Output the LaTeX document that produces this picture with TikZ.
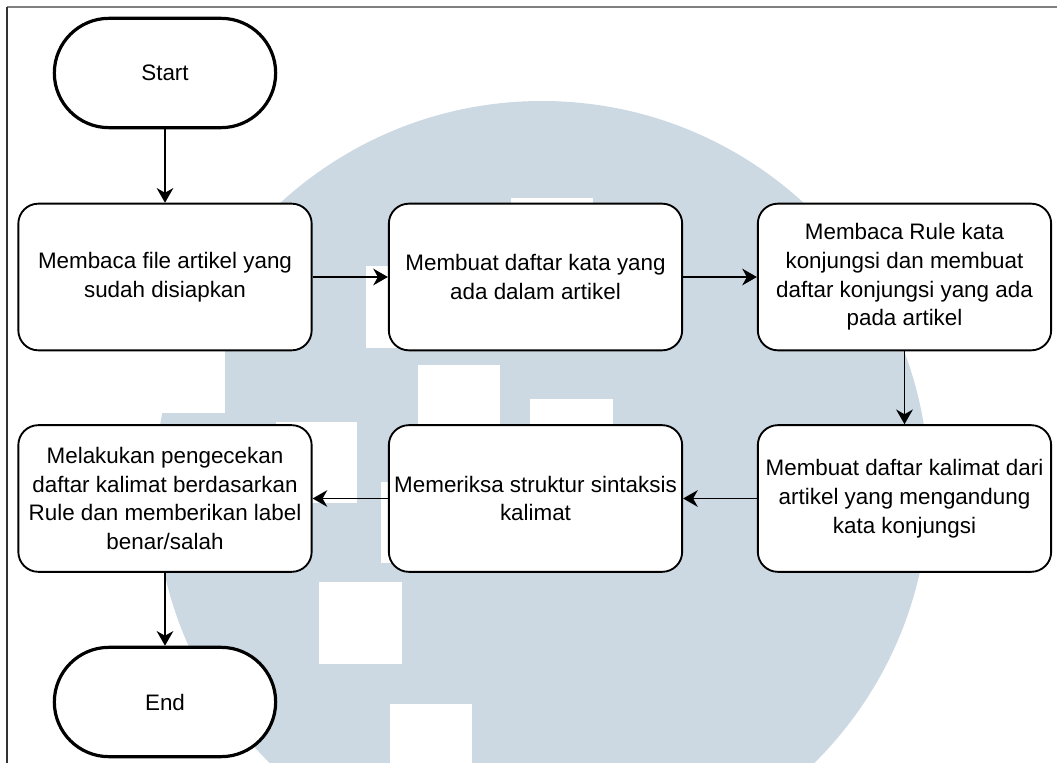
\documentclass[tikz,border=0pt]{standalone}
\usepackage{fontspec}
\setmainfont{Liberation Sans}
\usepackage{tikz}
\usetikzlibrary{arrows.meta}

\definecolor{wmark}{RGB}{204,217,227}

\begin{document}
\begin{tikzpicture}[x=0.75pt,y=-0.75pt,
	proc/.style={draw,line width=1.4pt,fill=white,rounded corners=15pt,minimum width=220pt,minimum height=110pt,align=center,inner sep=0pt,font=\fontsize{16.8}{21.6}\selectfont},
	term/.style={draw,line width=2.4pt,fill=white,rounded corners=41pt,minimum width=166pt,minimum height=82pt,inner sep=0pt,font=\fontsize{16.8}{21.6}\selectfont},
	flow/.style={line width=1.1pt,-{Stealth[length=11pt,width=12.5pt,inset=3.5pt]}}]
		\useasboundingbox (0,0) rectangle (1057,763);
		% watermark
		\begin{scope}
		\clip (0,0) rectangle (1057,763);
		\fill[wmark] (542,488) circle (290.25pt);
		\foreach \xa/\ya/\xb/\yb in {150/300/225/413,366/266/420/348,511/198/593/260,418/365/500/440,530/399/613/440,276/422/357/503,381/482/420/563,319/582/402/664,390/704/472/763}
		{
		\fill[white] (\xa,\ya) rectangle (\xb,\yb);
		}
		\end{scope}
		\draw[gray,line width=1.1pt] (7,7) -- (1057,7);
		\draw[black!80,line width=0.8pt] (7,7) -- (7,763);
		
		\node[term] (start) at (165,73) {Start};
		\node[proc] (baca) at (165,277) {Membaca file artikel yang\\sudah disiapkan};
		\node[proc] (kata) at (535.5,277) {Membuat daftar kata yang\\ada dalam artikel};
		\node[proc] (konj) at (904.5,277) {Membaca Rule kata\\konjungsi dan membuat\\daftar konjungsi yang ada\\pada artikel};
		\node[proc] (kalimat) at (904.5,498.5) {Membuat daftar kalimat dari\\artikel yang mengandung\\kata konjungsi};
		\node[proc] (sintaks) at (535.5,498.5) {Memeriksa struktur sintaksis\\kalimat};
		\node[proc] (cek) at (165,498.5) {Melakukan pengecekan\\daftar kalimat berdasarkan\\Rule dan memberikan label\\benar/salah};
		\node[term] (end) at (165,702) {End};
		
		\draw[flow] (start) -- (baca);
		\draw[flow] (baca) -- (kata);
		\draw[flow] (kata) -- (konj);
		\draw[flow] (konj) -- (kalimat);
		\draw[flow] (kalimat) -- (sintaks);
		\draw[flow] (sintaks) -- (cek);
		\draw[flow] (cek) -- (end);
	\end{tikzpicture}
\end{document}
